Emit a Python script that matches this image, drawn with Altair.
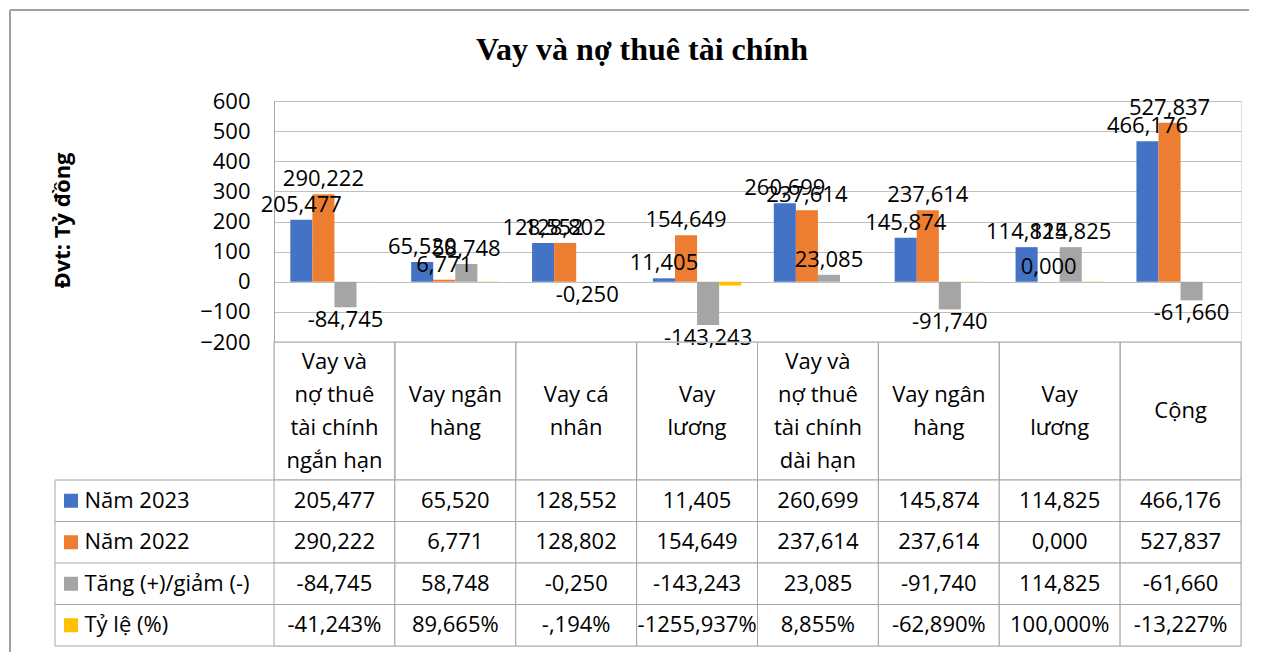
import altair as alt
import pandas as pd

# ---- data ----
categories = [
    "Vay và\nnợ thuê\ntài chính\nngắn hạn",
    "Vay ngân\nhàng",
    "Vay cá\nnhân",
    "Vay\nlương",
    "Vay và\nnợ thuê\ntài chính\ndài hạn",
    "Vay ngân\nhàng",
    "Vay\nlương",
    "Cộng",
]
series = ["Năm 2023", "Năm 2022", "Tăng (+)/giảm (-)", "Tỷ lệ (%)"]
nam_2023 = [205.477, 65.520, 128.552, 11.405, 260.699, 145.874, 114.825, 466.176]
nam_2022 = [290.222, 6.771, 128.802, 154.649, 237.614, 237.614, 0.000, 527.837]
tang_giam = [-84.745, 58.748, -0.250, -143.243, 23.085, -91.740, 114.825, -61.660]
ty_le_pct = [-41.243, 89.665, -0.194, -1255.937, 8.855, -62.890, 100.000, -13.227]
y_ticks = [-200, -100, 0, 100, 200, 300, 400, 500, 600]
chart_title = "Vay và nợ thuê tài chính"
y_title = "Đvt: Tỷ đồng"

colors = ["#4472C4", "#ED7D31", "#A5A5A5", "#FFC000"]
FONT = "Open Sans"
FS = 22
GRID = "#BFBFBF"
BORDER = "#A6A6A6"
FRAME = "#A0A0A0"


def vn(v):
    return f"{v:.3f}".replace(".", ",")


def vn_pct(v):
    s = f"{v:.3f}".replace(".", ",")
    if abs(v) < 1:
        s = s.replace("0,", ",", 1)
    return s + "%"


keys = [f"k{i}" for i in range(len(categories))]

rows = []
for i, k in enumerate(keys):
    rows.append(dict(key=k, series=series[0], value=nam_2023[i], label=vn(nam_2023[i]), show=1))
    rows.append(dict(key=k, series=series[1], value=nam_2022[i], label=vn(nam_2022[i]), show=1))
    rows.append(dict(key=k, series=series[2], value=tang_giam[i], label=vn(tang_giam[i]), show=1))
    rows.append(dict(key=k, series=series[3], value=ty_le_pct[i] / 100.0, label=vn_pct(ty_le_pct[i]), show=0))
df = pd.DataFrame(rows)

W = 967
H_BARS = 241
H_HDR = 138
H_TBL = 166
one = pd.DataFrame({"t": [chart_title]})

x_bar = alt.X("key:N", sort=keys, axis=None,
              scale=alt.Scale(paddingInner=0.27, paddingOuter=0.135))
xoff = alt.XOffset("series:N", sort=series, scale=alt.Scale(paddingInner=0, paddingOuter=0))
color = alt.Color("series:N", sort=series, scale=alt.Scale(domain=series, range=colors), legend=None)
y_val = alt.Y("value:Q", scale=alt.Scale(domain=[-200, 600], nice=False, zero=True),
              axis=alt.Axis(values=y_ticks, tickCount=9, title=y_title, grid=True, gridColor=GRID,
                            domain=True, domainColor=BORDER, ticks=False, labelPadding=24,
                            labelOverlap=False, labelFlush=False,
                            labelFont=FONT, labelFontSize=FS, labelColor="black",
                            titleFont=FONT, titleFontSize=22, titleFontWeight="bold",
                            titleColor="black", titleAngle=270, titleX=-212, titleY=119,
                            titleAlign="center", titleBaseline="middle"))

base = alt.Chart(df)
bars = base.mark_bar().encode(x=x_bar, xOffset=xoff, y=y_val, color=color)
lab_pos = base.transform_filter("datum.show == 1 && datum.value >= 0").mark_text(
    font=FONT, fontSize=FS, baseline="bottom", dy=-3, color="black"
).encode(x=x_bar, xOffset=xoff, y=y_val, text="label:N")
lab_neg = base.transform_filter("datum.show == 1 && datum.value < 0").mark_text(
    font=FONT, fontSize=FS, baseline="top", dy=3, color="black"
).encode(x=x_bar, xOffset=xoff, y=y_val, text="label:N")

title_mark = alt.Chart(one).mark_text(
    font="Liberation Serif", fontSize=32, fontWeight="bold", color="black", baseline="middle"
).encode(x=alt.value(368), y=alt.value(-51), text="t:N")
frame_top = alt.Chart(one).mark_rule(color=FRAME, strokeWidth=2).encode(
    x=alt.value(-264), x2=alt.value(975), y=alt.value(-91))
frame_left1 = alt.Chart(one).mark_rule(color=FRAME, strokeWidth=2).encode(
    x=alt.value(-264), y=alt.value(-91), y2=alt.value(H_BARS))

chart_bars = alt.layer(bars, frame_top, frame_left1, title_mark, lab_pos, lab_neg).properties(
    width=W, height=H_BARS)

# ---- header (category names) ----
hdr = pd.DataFrame({"key": keys, "label": categories})
x_tbl = alt.X("key:N", sort=keys, axis=None, scale=alt.Scale(paddingInner=0, paddingOuter=0))
hdr_rect = alt.Chart(hdr).mark_rect(fill="white", fillOpacity=0, stroke=BORDER, strokeWidth=1).encode(x=x_tbl)
hdr_text = alt.Chart(hdr).transform_calculate(
    ty=f"{H_HDR / 2} - (length(split(datum.label, '\\n')) - 1) * 16.5"
).mark_text(
    font=FONT, fontSize=FS, lineBreak="\n", lineHeight=33, baseline="middle", color="black"
).encode(x=x_tbl, y=alt.Y("ty:Q", scale=None, axis=None), text="label:N")
frame_left2 = alt.Chart(one).mark_rule(color=FRAME, strokeWidth=2).encode(
    x=alt.value(-264), y=alt.value(0), y2=alt.value(H_HDR))
chart_hdr = alt.layer(frame_left2, hdr_rect, hdr_text).properties(width=W, height=H_HDR)

# ---- data table ----
trows = []
for i, k in enumerate(keys):
    trows.append(dict(key=k, row=series[0], text=vn(nam_2023[i])))
    trows.append(dict(key=k, row=series[1], text=vn(nam_2022[i])))
    trows.append(dict(key=k, row=series[2], text=vn(tang_giam[i])))
    trows.append(dict(key=k, row=series[3], text=vn_pct(ty_le_pct[i])))
tdf = pd.DataFrame(trows)
sdf = pd.DataFrame({"row": series})

y_tbl = alt.Y("row:N", sort=series, scale=alt.Scale(paddingInner=0, paddingOuter=0),
              axis=alt.Axis(title=None, ticks=False, domain=False, labelAlign="left",
                            labelPadding=190, labelFont=FONT, labelFontSize=FS,
                            labelColor="black", labelBaseline="middle"))
t_rect = alt.Chart(tdf).mark_rect(fill="white", stroke=BORDER, strokeWidth=1).encode(x=x_tbl, y=y_tbl)
t_text = alt.Chart(tdf).mark_text(font=FONT, fontSize=FS, color="black").encode(
    x=x_tbl, y=alt.Y("row:N", sort=series), text="text:N")
t_sq = alt.Chart(sdf).mark_square(size=196, opacity=1, filled=True).encode(
    x=alt.value(-203), y=alt.Y("row:N", sort=series),
    color=alt.Color("row:N", scale=alt.Scale(domain=series, range=colors), legend=None))
t_hl = alt.Chart(sdf).mark_rule(color=BORDER, strokeWidth=1).encode(
    y=alt.Y("row:N", sort=series, bandPosition=0), x=alt.value(-219), x2=alt.value(0))
t_bot = alt.Chart(one).mark_rule(color=BORDER, strokeWidth=1).encode(
    y=alt.value(H_TBL), x=alt.value(-219), x2=alt.value(0))
t_left = alt.Chart(one).mark_rule(color=BORDER, strokeWidth=1).encode(
    x=alt.value(-219), y=alt.value(0), y2=alt.value(H_TBL))
frame_left3 = alt.Chart(one).mark_rule(color=FRAME, strokeWidth=2).encode(
    x=alt.value(-264), y=alt.value(0), y2=alt.value(H_TBL + 6))
chart_tbl = alt.layer(frame_left3, t_rect, t_text, t_sq, t_hl, t_bot, t_left).properties(
    width=W, height=H_TBL)

chart = alt.vconcat(chart_bars, chart_hdr, chart_tbl, spacing=0, bounds="flush").resolve_scale(
    x="independent", y="independent", color="independent"
).properties(
    padding={"left": 0, "top": 0, "right": 0, "bottom": 0},
).configure_view(stroke=None).configure(background="white")

chart.save("out.html", embed_options={"renderer": "svg", "actions": False})
